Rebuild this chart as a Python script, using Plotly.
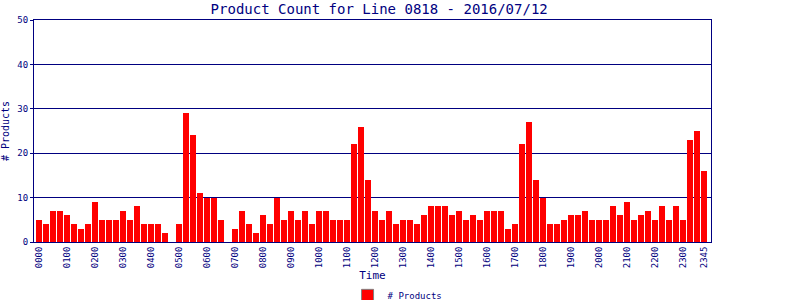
import plotly.graph_objects as go

times = [f"{h:02d}{m:02d}" for h in range(24) for m in (0, 15, 30, 45)]
counts = [
    5, 4, 7, 7, 6, 4, 3, 4, 9, 5, 5, 5, 7, 5, 8, 4,
    4, 4, 2, 0, 4, 29, 24, 11, 10, 10, 5, 0, 3, 7, 4, 2,
    6, 4, 10, 5, 7, 5, 7, 4, 7, 7, 5, 5, 5, 22, 26, 14,
    7, 5, 7, 4, 5, 5, 4, 6, 8, 8, 8, 6, 7, 5, 6, 5,
    7, 7, 7, 3, 4, 22, 27, 14, 10, 4, 4, 5, 6, 6, 7, 5,
    5, 5, 8, 6, 9, 5, 6, 7, 5, 8, 5, 8, 5, 23, 25, 16,
]
tick_idx = list(range(0, 96, 4)) + [95]
tick_labels = [times[i] for i in tick_idx]
y_ticks = [0, 10, 20, 30, 40, 50]

NAVY = "#000080"
FONT = "DejaVu Sans Mono"

fig = go.Figure()
fig.add_trace(go.Bar(
    x=list(range(len(counts))), y=counts, name="# Products",
    marker=dict(color="#FF0000", line=dict(width=0)),
    width=0.86, showlegend=False,
))
# legend-only entry (gray-bordered swatch as in the reference)
fig.add_trace(go.Bar(
    x=[None], y=[None], name="# Products",
    marker=dict(color="#FF0000", line=dict(width=1, color="#808080")),
    showlegend=True,
))
fig.update_layout(
    width=800, height=300,
    margin=dict(l=34, r=89, t=20, b=58, autoexpand=False),
    paper_bgcolor="white", plot_bgcolor="white",
    font=dict(family=FONT, color=NAVY, size=8),
    title=dict(text="Product Count for Line 0818 - 2016/07/12",
               font=dict(family=FONT, size=14, color=NAVY),
               x=0.474, xanchor="center", y=0.97, yanchor="middle", yref="container"),
    showlegend=True,
    legend=dict(orientation="h", x=0.537, xanchor="center", y=-0.175, yanchor="top",
                font=dict(family=FONT, size=9, color=NAVY),
                itemwidth=30, borderwidth=0, tracegroupgap=0),
    bargap=0, barmode="overlay",
)
fig.update_xaxes(
    range=[-0.7, 96.0], tickmode="array", tickvals=tick_idx, ticktext=tick_labels,
    tickangle=-90, tickfont=dict(family=FONT, size=9, color=NAVY),
    showline=True, linecolor=NAVY, linewidth=1, mirror=True,
    showgrid=False, ticks="", zeroline=False, automargin=False,
    title=dict(text="Time", font=dict(family=FONT, size=11, color=NAVY), standoff=4),
)
fig.update_yaxes(
    range=[0, 50], tickmode="array", tickvals=y_ticks,
    tickfont=dict(family=FONT, size=9, color=NAVY),
    showline=True, linecolor=NAVY, linewidth=1, mirror=True,
    showgrid=True, gridcolor=NAVY, gridwidth=1,
    ticks="outside", ticklen=3, tickcolor=NAVY, zeroline=False, automargin=False,
    title=dict(text="# Products", font=dict(family=FONT, size=10, color=NAVY), standoff=6),
)
fig.write_html("out.html")
